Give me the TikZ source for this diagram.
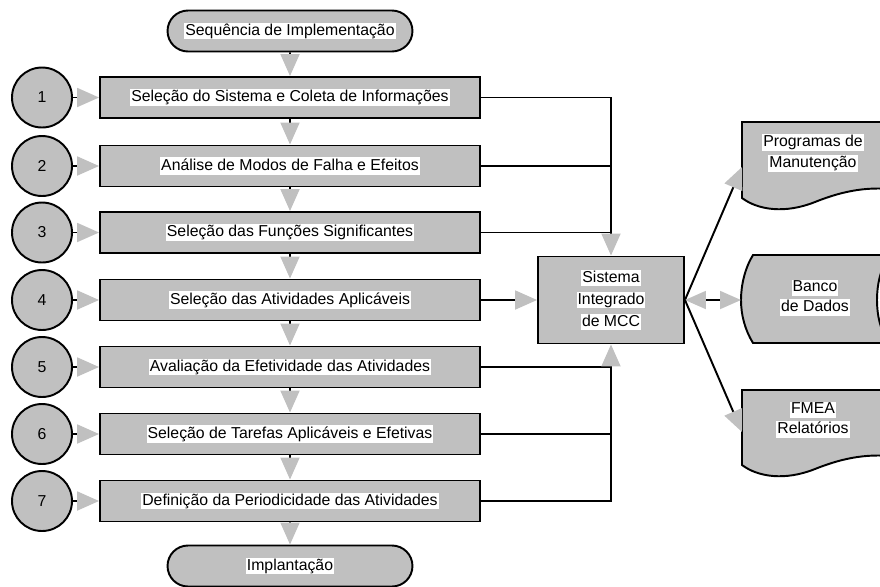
\documentclass[tikz,border=0pt]{standalone}
\usepackage{fontspec}
\setmainfont{Liberation Sans}
\usetikzlibrary{arrows.meta}
\usetikzlibrary{shapes.misc}
\definecolor{cinza}{RGB}{192,192,192}
\newcommand{\hl}[1]{{\setlength{\fboxsep}{0.6pt}\colorbox{white}{\rule[-1.9pt]{0pt}{7pt}#1}}}

\begin{document}
\begin{tikzpicture}[x=0.02cm,y=-0.02cm,line width=1.1pt,
    font=\fontsize{9}{12.5}\selectfont,
    passo/.style={draw,fill=cinza,minimum width=7.6cm,minimum height=0.82cm,inner sep=0pt},
    terminal/.style={draw,fill=cinza,rounded rectangle,minimum width=4.9cm,minimum height=0.82cm,inner sep=0pt},
    numero/.style={draw,fill=cinza,circle,minimum size=1.2cm,inner sep=0pt},
    doc/.style={draw,fill=cinza},
    seta/.style={-{Triangle[length=0.44cm,width=0.38cm,color=cinza]}},
    setadupla/.style={{Triangle[length=0.42cm,width=0.36cm,color=cinza]}-{Triangle[length=0.42cm,width=0.36cm,color=cinza]}}]
        \useasboundingbox (0,0) rectangle (880,586);
        \clip (0,0) rectangle (880,586);

        \node[terminal] (inicio) at (290,31) {\hl{Sequência de Implementação}};
        \node[passo] (p1) at (290,97.5) {\hl{Seleção do Sistema e Coleta de Informações}};
        \node[passo] (p2) at (290,166) {\hl{Análise de Modos de Falha e Efeitos}};
        \node[passo] (p3) at (290,232.5) {\hl{Seleção das Funções Significantes}};
        \node[passo] (p4) at (290,300) {\hl{Seleção das Atividades Aplicáveis}};
        \node[passo] (p5) at (290,367) {\hl{Avaliação da Efetividade das Atividades}};
        \node[passo] (p6) at (290,434) {\hl{Seleção de Tarefas Aplicáveis e Efetivas}};
        \node[passo] (p7) at (290,501) {\hl{Definição da Periodicidade das Atividades}};
        \node[terminal] (fim) at (290,566) {\hl{Implantação}};

        \node[numero] (n1) at (42,97.5) {1};
        \node[numero] (n2) at (42,166) {2};
        \node[numero] (n3) at (42,232.5) {3};
        \node[numero] (n4) at (42,300) {4};
        \node[numero] (n5) at (42,367) {5};
        \node[numero] (n6) at (42,434) {6};
        \node[numero] (n7) at (42,501) {7};

        \node[passo,minimum width=2.92cm,minimum height=1.74cm,align=center]
        (mcc) at (611,300) {\hl{Sistema}\\\hl{Integrado}\\\hl{de MCC}};

        % documentos e banco de dados
        \draw[doc] (742,122) -- (900,122) -- (900,190) .. controls (870,186)
        and (845,190) .. (815,202) .. controls (785,214) and (758,210) .. (742,198) -- cycle;
        \draw[doc] (753,255) -- (889,255) .. controls (880,270) and (877,285) .. (877,300)
        .. controls (877,315) and (880,330) .. (889,343) -- (753,343)
        .. controls (745,330) and (741,315) .. (741,300) .. controls (741,285) and (745,268) .. (753,255) -- cycle;
        \draw[doc] (742,390) -- (900,390) -- (900,457) .. controls (870,453)
        and (845,457) .. (815,469) .. controls (785,481) and (758,477) .. (742,465) -- cycle;

        \node[align=center,font=\fontsize{9}{11.5}\selectfont] (tprog) at (813,153) {\hl{Programas de}\\\hl{Manutenção}};
        \node[align=center,font=\fontsize{9}{11.5}\selectfont] (tbanco) at (815,298) {\hl{Banco}\\\hl{de Dados}};
        \node[align=center,font=\fontsize{9}{11.5}\selectfont] (tfmea) at (813,420) {\hl{FMEA}\\\hl{Relatórios}};
        \coordinate (prog) at (742,167);
        \coordinate (banco) at (741,300);
        \coordinate (fmea) at (742,432);

        \draw[seta] (inicio) -- (p1);
        \draw[seta] (p1) -- (p2);
        \draw[seta] (p2) -- (p3);
        \draw[seta] (p3) -- (p4);
        \draw[seta] (p4) -- (p5);
        \draw[seta] (p5) -- (p6);
        \draw[seta] (p6) -- (p7);
        \draw[seta] (p7) -- (fim);

        \draw[seta] (n1) -- (p1);
        \draw[seta] (n2) -- (p2);
        \draw[seta] (n3) -- (p3);
        \draw[seta] (n4) -- (p4);
        \draw[seta] (n5) -- (p5);
        \draw[seta] (n6) -- (p6);
        \draw[seta] (n7) -- (p7);

        \draw[seta] (p1.east) -| (mcc.north);
        \draw (p2.east) -- (p2.east -| mcc.north);
        \draw (p3.east) -- (p3.east -| mcc.north);
        \draw[seta] (p4.east) -- (mcc.west);
        \draw (p5.east) -- (p5.east -| mcc.south);
        \draw (p6.east) -- (p6.east -| mcc.south);
        \draw[seta] (p7.east) -| (mcc.south);

        \draw[seta] (mcc.east) -- (prog);
        \draw[setadupla] (mcc.east) -- (banco);
        \draw[seta] (mcc.east) -- (fmea);
      \end{tikzpicture}
\end{document}
